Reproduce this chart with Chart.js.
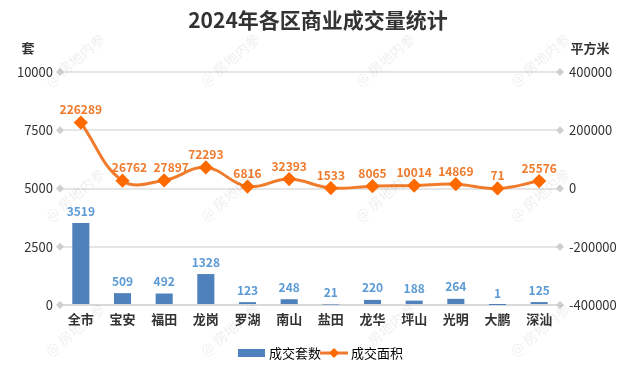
<!DOCTYPE html>
<html>
<head>
<meta charset="utf-8">
<script src="https://cdn.jsdelivr.net/npm/chart.js@4"></script>
<style>
  html, body { margin: 0; padding: 0; background: #fff; }
  #wrap { width: 637px; height: 384px; position: relative; }
</style>
</head>
<body>
<div id="wrap"><canvas id="chart"></canvas></div>
<script>
const districts = ['全市', '宝安', '福田', '龙岗', '罗湖', '南山', '盐田', '龙华', '坪山', '光明', '大鹏', '深汕'];
const units = [3519, 509, 492, 1328, 123, 248, 21, 220, 188, 264, 1, 125];
const area = [226289, 26762, 27897, 72293, 6816, 32393, 1533, 8065, 10014, 14869, 71, 25576];
const leftTicks = [0, 2500, 5000, 7500, 10000];
const rightTicks = [-400000, -200000, 0, 200000, 400000];

const FONT = '"Noto Sans CJK SC", "Noto Sans", sans-serif';
const BLUE = '#4f81bd';
const ORANGE = '#f07b2c';

// titles, labels, diamonds on tick ends, legend, watermark
const decor = {
  id: 'decor',
  afterDatasetsDraw(chart) {
    const { ctx, chartArea } = chart;
    const y = chart.scales.y, y1 = chart.scales.y1;
    ctx.save();

    // diamonds at grid ends
    ctx.fillStyle = '#cfcfcf';
    const diamond = (x, yy, r) => {
      ctx.beginPath();
      ctx.moveTo(x, yy - r); ctx.lineTo(x + r, yy); ctx.lineTo(x, yy + r); ctx.lineTo(x - r, yy);
      ctx.closePath(); ctx.fill();
    };
    leftTicks.forEach(v => diamond(chartArea.left, y.getPixelForValue(v), 4));
    rightTicks.forEach(v => diamond(chartArea.right, y1.getPixelForValue(v), 4));

    // bar labels
    ctx.font = 'bold 12px ' + FONT;
    ctx.textAlign = 'center';
    ctx.textBaseline = 'middle';
    ctx.fillStyle = '#5b9bd5';
    chart.getDatasetMeta(0).data.forEach((el, i) => {
      ctx.fillText(String(units[i]), el.x, el.y - 12);
    });
    // line labels
    ctx.fillStyle = ORANGE;
    chart.getDatasetMeta(1).data.forEach((el, i) => {
      const dx = (i === 1 || i === 2) ? 7 : 0;
      ctx.fillText(String(area[i]), el.x + dx, el.y - 13);
    });

    // title
    ctx.fillStyle = '#333';
    ctx.font = 'bold 21px ' + FONT;
    ctx.fillText('2024年各区商业成交量统计', 318, 20);
    ctx.font = 'bold 13px ' + FONT;
    ctx.fillText('套', 28, 48);
    ctx.fillText('平方米', 590, 48);

    // legend
    const ly = 353;
    ctx.fillStyle = BLUE;
    ctx.fillRect(238, ly - 4, 27, 8);
    ctx.fillStyle = '#000';
    ctx.font = '13px ' + FONT;
    ctx.textAlign = 'left';
    ctx.fillText('成交套数', 269, ly);
    ctx.strokeStyle = ORANGE;
    ctx.lineWidth = 3;
    ctx.beginPath(); ctx.moveTo(320, ly); ctx.lineTo(348, ly); ctx.stroke();
    ctx.fillStyle = '#ff6a00';
    diamond(334, ly, 5);
    ctx.fillStyle = '#000';
    ctx.fillText('成交面积', 351, ly);

    // watermark
    ctx.fillStyle = 'rgba(0,0,0,0.07)';
    ctx.font = '14px ' + FONT;
    ctx.textAlign = 'center';
    [60, 195, 330].forEach(wy => {
      [75, 230, 385, 540].forEach(wx => {
        ctx.save();
        ctx.translate(wx, wy);
        ctx.rotate(-0.7);
        ctx.fillText('@ 房地内参', 0, 0);
        ctx.restore();
      });
    });
    ctx.restore();
  }
};

new Chart(document.getElementById('chart'), {
  data: {
    labels: districts,
    datasets: [
      {
        type: 'bar',
        label: '成交套数',
        data: units,
        yAxisID: 'y',
        backgroundColor: BLUE,
        barPercentage: 0.5,
        categoryPercentage: 0.82,
        order: 2
      },
      {
        type: 'line',
        label: '成交面积',
        data: area,
        yAxisID: 'y1',
        borderColor: ORANGE,
        borderWidth: 3,
        tension: 0.4,
        pointStyle: 'rectRot',
        pointRadius: 5,
        pointBackgroundColor: '#ff6a00',
        pointBorderColor: '#ff6a00',
        order: 1
      }
    ]
  },
  options: {
    responsive: true,
    maintainAspectRatio: false,
    animation: false,
    devicePixelRatio: 1,
    layout: { padding: { top: 72, bottom: 49, left: 0, right: 0 } },
    plugins: { legend: { display: false }, tooltip: { enabled: false } },
    scales: {
      x: {
        grid: { display: false, drawTicks: false },
        border: { color: '#d9d9d9', width: 2 },
        ticks: { color: '#333', font: { family: FONT, size: 13, weight: 'bold' }, padding: 6 },
        afterFit(s) { s.height = 30; }
      },
      y: {
        position: 'left',
        min: 0, max: 10000,
        afterBuildTicks(s) { s.ticks = leftTicks.map(v => ({ value: v })); },
        grid: { color: '#e6e6e6', lineWidth: 2, drawTicks: false },
        border: { display: false },
        ticks: { color: '#333', font: { family: FONT, size: 13 }, padding: 7, callback: v => String(v) },
        afterFit(s) { s.width = 60; }
      },
      y1: {
        position: 'right',
        min: -400000, max: 400000,
        afterBuildTicks(s) { s.ticks = rightTicks.map(v => ({ value: v })); },
        grid: { display: false, drawTicks: false },
        border: { display: false },
        ticks: { color: '#333', font: { family: FONT, size: 13 }, padding: 9, callback: v => String(v) },
        afterFit(s) { s.width = 77; }
      }
    }
  },
  plugins: [decor]
});
</script>
</body>
</html>
